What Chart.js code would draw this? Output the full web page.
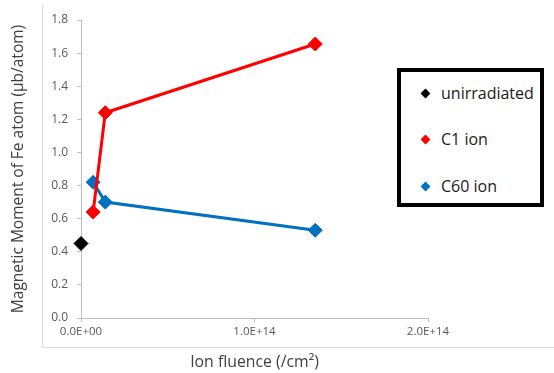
<!DOCTYPE html>
<html>
<head>
<meta charset="utf-8">
<script src="https://cdn.jsdelivr.net/npm/chart.js@4/dist/chart.umd.min.js"></script>
<style>
  html, body { margin: 0; padding: 0; background: #fff; }
  #wrap { position: relative; width: 554px; height: 373px; }
  #frame { position: absolute; left: 42px; top: 5px; width: 512px; height: 343px;
           border-left: 1px solid #d9d9d9; border-bottom: 1px solid #d9d9d9; box-sizing: border-box; pointer-events: none; }
  #legend { position: absolute; left: 397px; top: 68px; width: 147px; height: 139px;
            border: 4px solid #000; box-sizing: border-box; background: #fff;
            font-family: "Open Sans", sans-serif; font-size: 16px; color: #1a1a1a; }
  .item { position: absolute; left: 20px; height: 20px; line-height: 20px; }
  .mk { position: absolute; left: 1px; top: 7px; width: 7px; height: 7px; transform: rotate(45deg); }
  .lbl { position: absolute; left: 20px; top: 0; white-space: nowrap; }
</style>
</head>
<body>
<div id="wrap">
  <canvas id="c" width="554" height="373"></canvas>
  <div id="frame"></div>
  <div id="legend"></div>
</div>
<script>
// ---- data ----
const seriesNames = ['unirradiated', 'C1 ion', 'C60 ion'];
const seriesColors = ['#000000', '#ff0000', '#0070c0'];
const unirradiatedFluence = [0];
const unirradiatedMoment = [0.45];
const c1Fluence = [7e12, 1.4e13, 1.35e14];
const c1Moment = [0.64, 1.24, 1.655];
const c60Fluence = [7e12, 1.4e13, 1.35e14];
const c60Moment = [0.82, 0.70, 0.53];
const xTickValues = [0, 1e14, 2e14];
const xTickLabels = ['0.0E+00', '1.0E+14', '2.0E+14'];
const yTickLabels = ['0.0', '0.2', '0.4', '0.6', '0.8', '1.0', '1.2', '1.4', '1.6', '1.8'];
const xTitle = 'Ion fluence (/cm²)';
const yTitle = 'Magnetic Moment of Fe atom (μb/atom)';

function pts(xs, ys) { return xs.map((x, i) => ({ x: x, y: ys[i] })); }
const seriesX = [unirradiatedFluence, c1Fluence, c60Fluence];
const seriesY = [unirradiatedMoment, c1Moment, c60Moment];

const FONT = '"Open Sans", sans-serif';

const datasets = seriesNames.map((name, i) => ({
  label: name,
  data: pts(seriesX[i], seriesY[i]),
  borderColor: seriesColors[i],
  backgroundColor: seriesColors[i],
  pointBackgroundColor: seriesColors[i],
  pointBorderColor: seriesColors[i],
  pointStyle: 'rectRot',
  pointRadius: 7,
  pointBorderWidth: 1,
  borderWidth: 3,
  showLine: i !== 0,
  tension: 0,
  clip: false
}));

new Chart(document.getElementById('c'), {
  type: 'scatter',
  data: { datasets: datasets },
  options: {
    responsive: false,
    animation: false,
    layout: { padding: { left: 0, right: 126, top: 20, bottom: 0 } },
    plugins: { legend: { display: false }, tooltip: { enabled: false } },
    scales: {
      x: {
        type: 'linear', min: 0, max: 2e14,
        afterFit: s => { s.height = 55; },
        afterBuildTicks: s => { s.ticks = xTickValues.map(v => ({ value: v })); },
        ticks: {
          color: '#595959', font: { family: FONT, size: 11.5 }, padding: 3,
          maxRotation: 0,
          callback: (v) => { const k = xTickValues.indexOf(v); return k >= 0 ? xTickLabels[k] : ''; }
        },
        grid: { display: true, drawOnChartArea: false, tickLength: 4, color: '#bfbfbf' },
        border: { display: true, color: '#bfbfbf', width: 1 },
        title: { display: true, text: xTitle, color: '#404040', font: { family: FONT, size: 15.8 }, padding: { top: 0, bottom: 1 } }
      },
      y: {
        type: 'linear', min: 0, max: 1.8,
        afterFit: s => { s.width = 81; },
        ticks: {
          stepSize: 0.2, color: '#595959', font: { family: FONT, size: 12 }, padding: 9,
          callback: (v) => yTickLabels[Math.round(v / 0.2)]
        },
        grid: { display: true, drawOnChartArea: false, tickLength: 4, color: '#bfbfbf' },
        border: { display: true, color: '#bfbfbf', width: 1 },
        title: { display: true, text: yTitle, color: '#404040', font: { family: FONT, size: 15.5 }, padding: { top: 9, bottom: 0 } }
      }
    }
  }
});

// HTML legend built from the series arrays
const lg = document.getElementById('legend');
const rowTops = [11, 57, 104];
seriesNames.forEach((name, i) => {
  const it = document.createElement('div');
  it.className = 'item';
  it.style.top = rowTops[i] + 'px';
  const mk = document.createElement('div');
  mk.className = 'mk';
  mk.style.background = seriesColors[i];
  const tx = document.createElement('div');
  tx.className = 'lbl';
  tx.textContent = name;
  it.appendChild(mk); it.appendChild(tx);
  lg.appendChild(it);
});
</script>
</body>
</html>
